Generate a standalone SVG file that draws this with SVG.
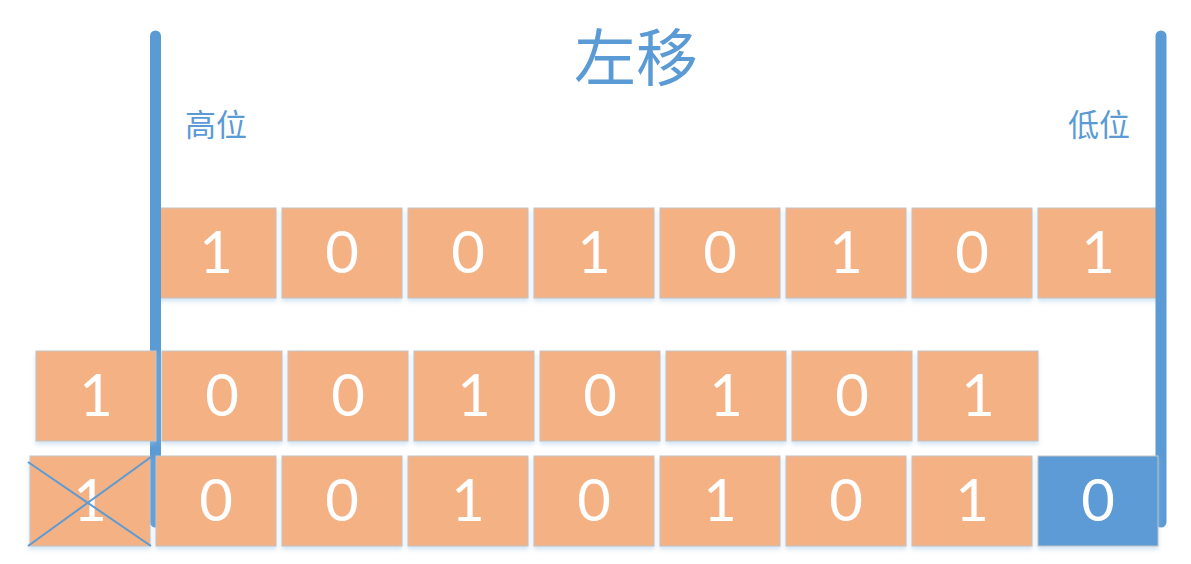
<svg xmlns="http://www.w3.org/2000/svg" width="1191" height="564" viewBox="0 0 1191 564">
<style>
.b{fill:#F4B183;stroke:#C3C3C3;stroke-width:1}
.bb{fill:#5B9BD5;stroke:#C3C3C3;stroke-width:1}
.d{font-family:Lato,"Open Sans",sans-serif;font-size:58px;fill:#fff;text-anchor:middle}
.bar{stroke:#5B9BD5;stroke-width:11;stroke-linecap:round;fill:none}
.lbl{font-family:"Noto Sans CJK SC",sans-serif;fill:#5B9BD5}
.x{stroke:#5B9BD5;stroke-width:2}
</style>
<defs>
<filter id="sh" x="-10%" y="-10%" width="120%" height="130%">
<feDropShadow dx="0" dy="3" stdDeviation="2" flood-color="#9DC3E6" flood-opacity="0.45"/>
</filter>
</defs>
<rect width="1191" height="564" fill="#fff"/>
<g id="title"><text class="lbl" x="636" y="81" font-size="62" text-anchor="middle">左移</text></g>
<g id="high"><text class="lbl" x="185" y="136" font-size="31">高位</text></g>
<g id="low"><text class="lbl" x="1068" y="136" font-size="31">低位</text></g>
<g id="row1" filter="url(#sh)">
<g id="r1c0"><rect class="b" x="156" y="208" width="120" height="90"/><text class="d" x="216" y="273">1</text></g>
<g id="r1c1"><rect class="b" x="282" y="208" width="120" height="90"/><text class="d" x="342" y="273">0</text></g>
<g id="r1c2"><rect class="b" x="408" y="208" width="120" height="90"/><text class="d" x="468" y="273">0</text></g>
<g id="r1c3"><rect class="b" x="534" y="208" width="120" height="90"/><text class="d" x="594" y="273">1</text></g>
<g id="r1c4"><rect class="b" x="660" y="208" width="120" height="90"/><text class="d" x="720" y="273">0</text></g>
<g id="r1c5"><rect class="b" x="786" y="208" width="120" height="90"/><text class="d" x="846" y="273">1</text></g>
<g id="r1c6"><rect class="b" x="912" y="208" width="120" height="90"/><text class="d" x="972" y="273">0</text></g>
<g id="r1c7"><rect class="b" x="1038" y="208" width="120" height="90"/><text class="d" x="1098" y="273">1</text></g>
</g>
<g id="bars">
<line class="bar" x1="155.5" y1="36" x2="155.5" y2="522"/>
<line class="bar" x1="1161" y1="36" x2="1161" y2="522"/>
</g>
<g id="row2" filter="url(#sh)">
<g id="r2c0"><rect class="b" x="36" y="351" width="120" height="90"/><text class="d" x="96" y="416">1</text></g>
<g id="r2c1"><rect class="b" x="162" y="351" width="120" height="90"/><text class="d" x="222" y="416">0</text></g>
<g id="r2c2"><rect class="b" x="288" y="351" width="120" height="90"/><text class="d" x="348" y="416">0</text></g>
<g id="r2c3"><rect class="b" x="414" y="351" width="120" height="90"/><text class="d" x="474" y="416">1</text></g>
<g id="r2c4"><rect class="b" x="540" y="351" width="120" height="90"/><text class="d" x="600" y="416">0</text></g>
<g id="r2c5"><rect class="b" x="666" y="351" width="120" height="90"/><text class="d" x="726" y="416">1</text></g>
<g id="r2c6"><rect class="b" x="792" y="351" width="120" height="90"/><text class="d" x="852" y="416">0</text></g>
<g id="r2c7"><rect class="b" x="918" y="351" width="120" height="90"/><text class="d" x="978" y="416">1</text></g>
</g>
<g id="row3" filter="url(#sh)">
<g id="r3c0"><rect class="b" x="30" y="456" width="120" height="90"/><text class="d" x="90" y="521">1</text>
<line class="x" x1="28" y1="462" x2="151" y2="546"/><line class="x" x1="28" y1="546" x2="151" y2="457"/></g>
<g id="r3c1"><rect class="b" x="156" y="456" width="120" height="90"/><text class="d" x="216" y="521">0</text></g>
<g id="r3c2"><rect class="b" x="282" y="456" width="120" height="90"/><text class="d" x="342" y="521">0</text></g>
<g id="r3c3"><rect class="b" x="408" y="456" width="120" height="90"/><text class="d" x="468" y="521">1</text></g>
<g id="r3c4"><rect class="b" x="534" y="456" width="120" height="90"/><text class="d" x="594" y="521">0</text></g>
<g id="r3c5"><rect class="b" x="660" y="456" width="120" height="90"/><text class="d" x="720" y="521">1</text></g>
<g id="r3c6"><rect class="b" x="786" y="456" width="120" height="90"/><text class="d" x="846" y="521">0</text></g>
<g id="r3c7"><rect class="b" x="912" y="456" width="120" height="90"/><text class="d" x="972" y="521">1</text></g>
<g id="r3c8"><rect class="bb" x="1038" y="456" width="120" height="90"/><text class="d" x="1098" y="521">0</text></g>
</g>
</svg>
